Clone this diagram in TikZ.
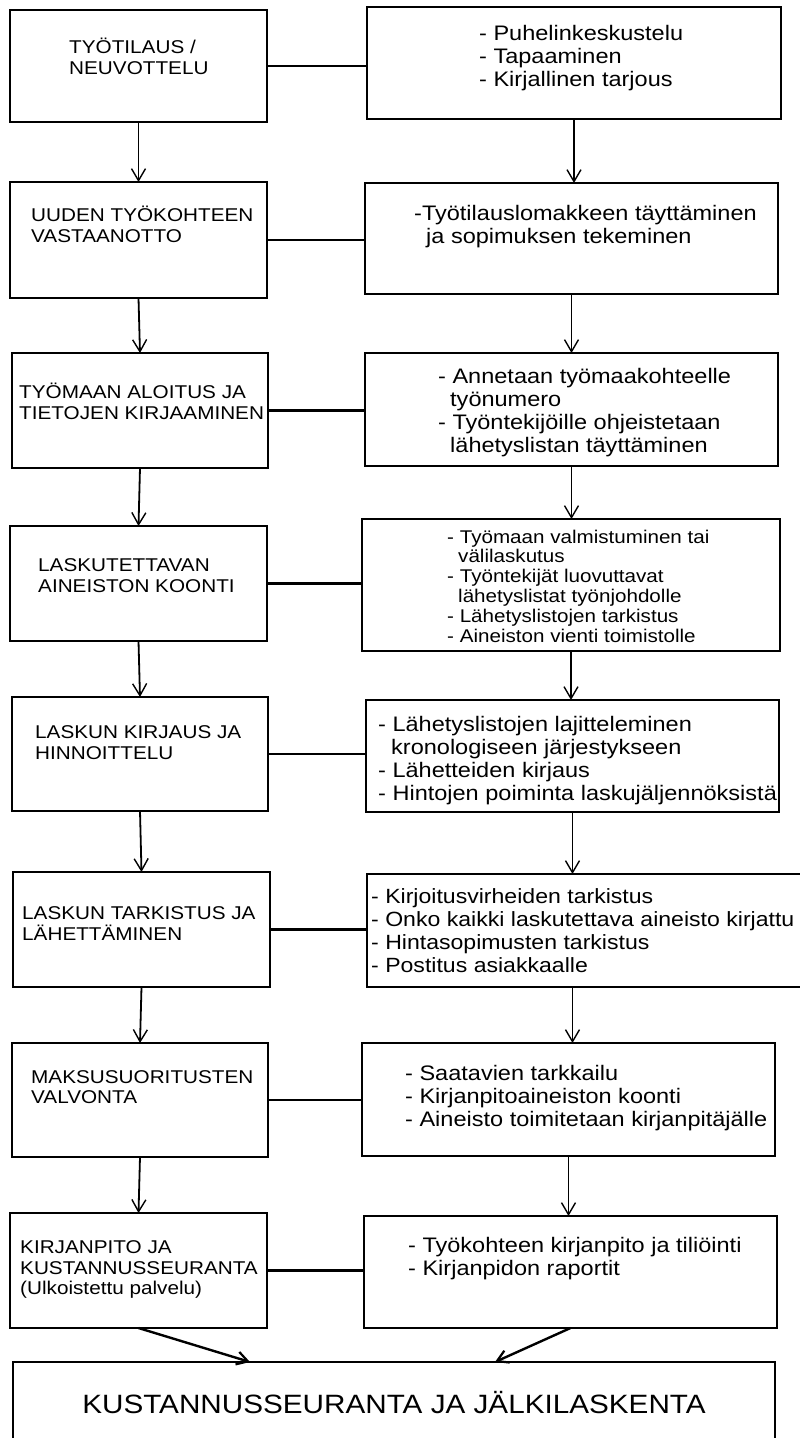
\documentclass[tikz,border=0pt]{standalone}
\usepackage{fontspec}
\setmainfont{Liberation Sans}
\newfontfamily\stretchfont[FakeStretch=1.12]{Liberation Sans}
\usetikzlibrary{arrows.meta}
\tikzset{
  box/.style={draw=black, line width=2.6pt, inner sep=0pt, outer sep=0pt, anchor=north west},
  lt/.style={anchor=base west, inner sep=0pt, align=left, font=\stretchfont\fontsize{18.5}{20.5}\selectfont},
  rt/.style={anchor=base west, inner sep=0pt, align=left, font=\stretchfont\fontsize{21}{23}\selectfont},
  rts/.style={anchor=base west, inner sep=0pt, align=left, font=\stretchfont\fontsize{20.6}{23}\selectfont},
  st/.style={anchor=base west, inner sep=0pt, align=left, font=\stretchfont\fontsize{18.4}{19.8}\selectfont},
  bt/.style={anchor=base, inner sep=0pt, font=\stretchfont\fontsize{26.5}{30}\selectfont},
  link/.style={draw=black, line width=2.4pt},
  arr/.style={draw=black, line width=1.8pt, -{Straight Barb[length=12pt,width=14pt,line width=1.4pt]}},
  darr/.style={draw=black, line width=2.4pt, -{Straight Barb[length=11pt,width=13pt,line width=2.2pt]}}
}
\begin{document}
\begin{tikzpicture}[x=1pt,y=-1pt]
\useasboundingbox (0,0) rectangle (800,1438);
\fill[white] (0,0) rectangle (800,1438);
\clip (0,0) rectangle (800,1438);

% boxes
\node[box, minimum width=257pt, minimum height=112pt] (b1l) at (10,10) {};
\node[box, minimum width=414pt, minimum height=112pt] (b1r) at (367,7) {};
\node[box, minimum width=257pt, minimum height=116pt] (b2l) at (10,182) {};
\node[box, minimum width=413pt, minimum height=111pt] (b2r) at (365,183) {};
\node[box, minimum width=256pt, minimum height=115pt] (b3l) at (12,353) {};
\node[box, minimum width=413pt, minimum height=113pt] (b3r) at (365,353) {};
\node[box, minimum width=257pt, minimum height=115pt] (b4l) at (10,526) {};
\node[box, minimum width=418pt, minimum height=132pt] (b4r) at (362,519) {};
\node[box, minimum width=256pt, minimum height=114pt] (b5l) at (12,697) {};
\node[box, minimum width=413pt, minimum height=112pt] (b5r) at (366,700) {};
\node[box, minimum width=257pt, minimum height=115pt] (b6l) at (13,872) {};
\node[box, minimum width=440pt, minimum height=113pt] (b6r) at (367,874) {};
\node[box, minimum width=256pt, minimum height=114pt] (b7l) at (12,1043) {};
\node[box, minimum width=413pt, minimum height=113pt] (b7r) at (362,1043) {};
\node[box, minimum width=257pt, minimum height=115pt] (b8l) at (10,1213) {};
\node[box, minimum width=413pt, minimum height=112pt] (b8r) at (364,1216) {};
\node[box, minimum width=762pt, minimum height=100pt] (b9) at (13,1362) {};

% texts (anchor = baseline of the last line)
\node[lt] (t1l) at (69,74) {TYÖTILAUS /\\NEUVOTTELU};
\node[rt] (t1r) at (479,86) {- Puhelinkeskustelu\\- Tapaaminen\\- Kirjallinen tarjous};
\node[lt] (t2l) at (31,242) {UUDEN TYÖKOHTEEN\\VASTAANOTTO};
\node[rt] (t2r) at (414,243) {-Työtilauslomakkeen täyttäminen\\\hspace*{12pt}ja sopimuksen tekeminen};
\node[lt] (t3l) at (19,419) {TYÖMAAN ALOITUS JA\\TIETOJEN KIRJAAMINEN};
\node[rt] (t3r) at (438,452) {- Annetaan työmaakohteelle\\\hspace*{12pt}työnumero\\- Työntekijöille ohjeistetaan\\\hspace*{12pt}lähetyslistan täyttäminen};
\node[lt] (t4l) at (38,592) {LASKUTETTAVAN\\AINEISTON KOONTI};
\node[st] (t4r) at (447,642) {- Työmaan valmistuminen tai\\\hspace*{11pt}välilaskutus\\- Työntekijät luovuttavat\\\hspace*{11pt}lähetyslistat työnjohdolle\\- Lähetyslistojen tarkistus\\- Aineiston vienti toimistolle};
\node[lt] (t5l) at (35,759) {LASKUN KIRJAUS JA\\HINNOITTELU};
\node[rt] (t5r) at (378,800) {- Lähetyslistojen lajitteleminen\\\hspace*{13pt}kronologiseen järjestykseen\\- Lähetteiden kirjaus\\- Hintojen poiminta laskujäljennöksistä};
\node[lt] (t6l) at (22,940) {LASKUN TARKISTUS JA\\LÄHETTÄMINEN};
\node[rts] (t6r) at (371,972) {- Kirjoitusvirheiden tarkistus\\- Onko kaikki laskutettava aineisto kirjattu\\- Hintasopimusten tarkistus\\- Postitus asiakkaalle};
\node[lt] (t7l) at (31,1103.5) {MAKSUSUORITUSTEN\\VALVONTA};
\node[rt] (t7r) at (405,1126) {- Saatavien tarkkailu\\- Kirjanpitoaineiston koonti\\- Aineisto toimitetaan kirjanpitäjälle};
\node[lt] (t8l) at (20,1294.5) {KIRJANPITO JA\\KUSTANNUSSEURANTA\\(Ulkoistettu palvelu)};
\node[rt] (t8r) at (408,1275) {- Työkohteen kirjanpito ja tiliöinti\\- Kirjanpidon raportit};
\node[bt] (t9) at (394,1413) {KUSTANNUSSEURANTA JA JÄLKILASKENTA};

% horizontal links
\foreach \r in {1,...,8}{
  \draw[link] (b\r l.east) -- (b\r l.east -| b\r r.west);
}

% left arrows
\draw[arr] (b1l.south) -- (b2l.north);
\draw[arr] (b2l.south) -- (b3l.north);
\draw[arr] (b3l.south) -- (b4l.north);
\draw[arr] (b4l.south) -- (b5l.north);
\draw[arr] (b5l.south) -- (b6l.north);
\draw[arr] (b6l.south) -- (b7l.north);
\draw[arr] (b7l.south) -- (b8l.north);

% right arrows
\draw[arr] (b1r.south) -- (b1r.south |- b2r.north);
\draw[arr] (b2r.south) -- (b2r.south |- b3r.north);
\draw[arr] (b3r.south) -- (b3r.south |- b4r.north);
\draw[arr] (b4r.south) -- (b4r.south |- b5r.north);
\draw[arr] (b5r.south) -- (b5r.south |- b6r.north);
\draw[arr] (b5r.south |- b6r.south) -- (b5r.south |- b7r.north);
\draw[arr] (b7r.south) -- (b7r.south |- b8r.north);

% to final box
\coordinate (in1) at (250,1362);
\coordinate (in2) at (495,1362);
\draw[darr] (b8l.south) -- (in1);
\draw[darr] (b8r.south) -- (in2);
\end{tikzpicture}
\end{document}
